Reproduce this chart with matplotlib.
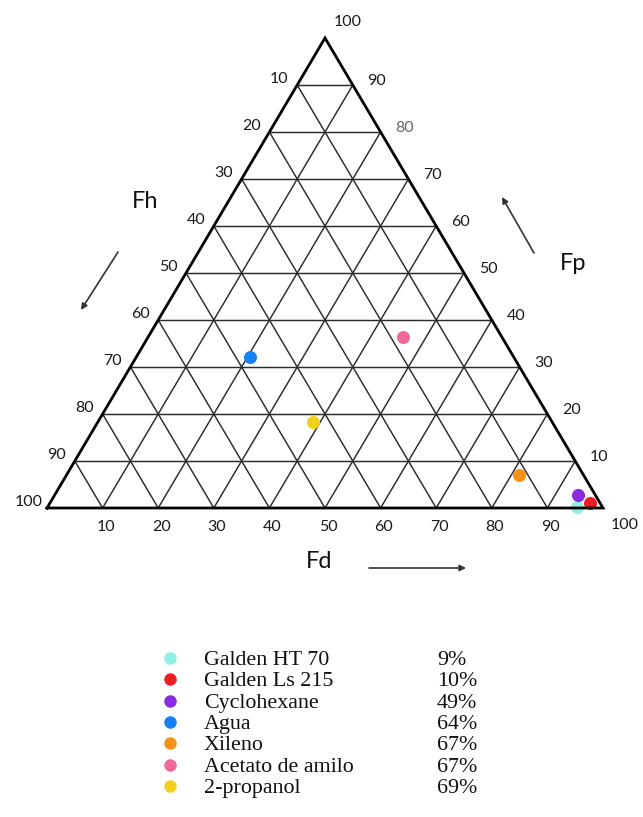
import matplotlib
matplotlib.use("Agg")
import matplotlib.pyplot as plt

# Hansen fractional parameters (%) of each solvent
solvents = ["Galden HT 70", "Galden Ls 215", "Cyclohexane", "Agua",
            "Xileno", "Acetato de amilo", "2-propanol"]
fd = [95.2, 97.1, 94.1, 20.5, 81.4, 45.8, 38.7]
fp = [0.3, 1.1, 2.8, 32.1, 7.0, 36.4, 18.3]
fh = [4.5, 1.8, 3.1, 47.4, 11.6, 17.8, 43.0]
percent = ["9%", "10%", "49%", "64%", "67%", "67%", "69%"]
colors = ["#8ff0e4", "#ee1c24", "#8a2be2", "#1681f5",
          "#f39217", "#ef6a9a", "#f2d01b"]
# draw order of the markers (later ones on top)
draw_order = [0, 2, 1, 3, 4, 5, 6]

grid_values = [10, 20, 30, 40, 50, 60, 70, 80, 90]
tick_values = [10, 20, 30, 40, 50, 60, 70, 80, 90, 100]

W, H, DPI = 643, 817, 100
fig = plt.figure(figsize=(W / DPI, H / DPI), dpi=DPI)
ax = fig.add_axes([0, 0, 1, 1])
ax.set_axis_off()

# triangle: (0,0) -> left corner, (100,0) -> right corner, (50,100) -> apex
left_px, right_px, base_px, top_px = 47, 603, 508, 38
sx = (right_px - left_px) / 100.0
sy = (base_px - top_px) / 100.0
ax.set_xlim(-left_px / sx, (W - left_px) / sx)
ax.set_ylim(-(H - base_px) / sy, base_px / sy)


def tern(d, p):
    """Cartesian position of a point with Fd=d, Fp=p."""
    return d + p / 2.0, p


grid_kw = dict(color="#2b2b2b", lw=1.05, solid_capstyle="butt", zorder=1)
for k in grid_values:
    # constant Fp
    x0, y0 = tern(0, k)
    x1, y1 = tern(100 - k, k)
    ax.plot([x0, x1], [y0, y1], **grid_kw)
    # constant Fd
    x0, y0 = tern(k, 0)
    x1, y1 = tern(k, 100 - k)
    ax.plot([x0, x1], [y0, y1], **grid_kw)
    # constant Fh
    x0, y0 = tern(100 - k, 0)
    x1, y1 = tern(0, 100 - k)
    ax.plot([x0, x1], [y0, y1], **grid_kw)

# solvents
for i in draw_order:
    x, y = tern(fd[i], fp[i])
    ax.plot([x], [y], "o", ms=9.4, color=colors[i], mec="none", zorder=3)

# outer frame
cx = [tern(0, 0)[0], tern(100, 0)[0], tern(0, 100)[0], tern(0, 0)[0]]
cy = [tern(0, 0)[1], tern(100, 0)[1], tern(0, 100)[1], tern(0, 0)[1]]
ax.plot(cx, cy, color="black", lw=2.0, solid_joinstyle="miter", zorder=4)

tick_font = dict(family="Lato", fontsize=11.5, color="#1a1a1a",
                 ha="center", va="center")
PT = 72.0 / DPI


def tick_label(text, xy, dx, dy, **kw):
    opts = dict(tick_font)
    opts.update(kw)
    ax.annotate(text, xy=xy, xytext=(dx * PT, dy * PT),
                textcoords="offset points", **opts)


# Fh along the left edge
for v in tick_values:
    tick_label(str(v), tern(0, 100 - v), -18, 6)
# Fp along the right edge
for v in tick_values:
    if v == 100:
        tick_label(str(v), tern(0, v), 23, 16)
    else:
        col = "#666666" if v == 80 else "#1a1a1a"
        tick_label(str(v), tern(100 - v, v), 24, 4, color=col)
# Fd along the base
for v in tick_values:
    if v == 100:
        tick_label(str(v), tern(v, 0), 22, -17)
    else:
        tick_label(str(v), tern(v, 0), 3, -19)

# axis titles and direction arrows (figure pixels, origin bottom-left)
title_font = dict(family="Lato", fontsize=17, color="#111111",
                  ha="center", va="center")
fig.text(145 / W, 1 - 202 / H, "Fh", **title_font)
fig.text(573 / W, 1 - 264 / H, "Fp", **title_font)
fig.text(319 / W, 1 - 562 / H, "Fd", **title_font)

arrow_kw = dict(arrowstyle="-|>", color="#333333", lw=1.2,
                mutation_scale=9, shrinkA=0, shrinkB=0)
for (x0, y0), (x1, y1) in [((118, 252), (81, 310)),
                           ((534, 253), (502, 197)),
                           ((369, 568), (466, 568))]:
    ax.annotate("", xy=(x1, H - y1), xycoords="figure pixels",
                xytext=(x0, H - y0), textcoords="figure pixels",
                arrowprops=arrow_kw)

# legend
leg_x_marker, leg_x_name, leg_x_pct = 170, 204, 437
leg_y0, leg_dy = 658, 21.3
for i, name in enumerate(solvents):
    yc = leg_y0 + i * leg_dy
    ax.plot([leg_x_marker / W], [1 - yc / H], "o", ms=9.0, color=colors[i],
            mec="none", transform=fig.transFigure, clip_on=False)
    fig.text(leg_x_name / W, 1 - (yc + 7) / H, name, family="Liberation Serif",
             fontsize=15.8, color="#111111", ha="left", va="baseline")
    fig.text(leg_x_pct / W, 1 - (yc + 7) / H, percent[i],
             family="Liberation Serif", fontsize=15.8, color="#111111",
             ha="left", va="baseline")

fig.savefig("out.png", dpi=DPI, facecolor="white")
